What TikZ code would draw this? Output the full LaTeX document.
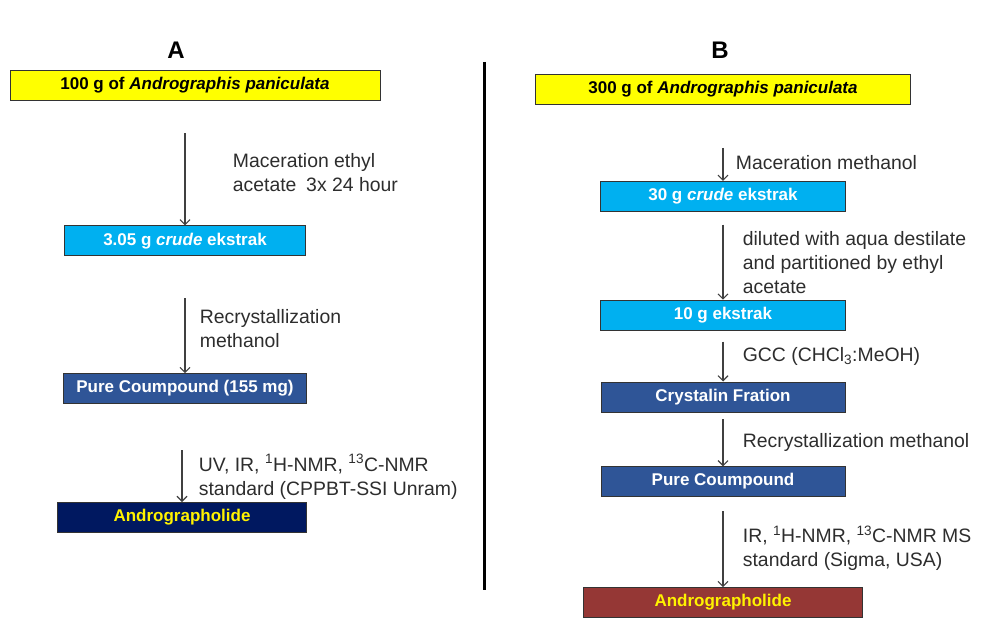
\documentclass[tikz,border=0pt]{standalone}
\usepackage{fontspec}
\setmainfont{Liberation Sans}
\usetikzlibrary{arrows.meta,positioning}
\definecolor{plantyellow}{RGB}{255,255,0}
\definecolor{extractcyan}{RGB}{0,176,240}
\definecolor{fractionblue}{RGB}{47,85,151}
\definecolor{productnavy}{RGB}{0,24,96}
\definecolor{productred}{RGB}{149,55,53}
\definecolor{labelgray}{RGB}{45,45,45}
\tikzset{
  stage/.style={rectangle, draw=black!80, line width=0.8pt, inner sep=0pt,
                minimum height=30pt, text height=12.5pt, text depth=4pt,
                align=center, font=\fontsize{17}{20}\selectfont\bfseries},
  plant/.style={stage, fill=plantyellow, text=black},
  crude/.style={stage, fill=extractcyan, text=white},
  fraction/.style={stage, fill=fractionblue, text=white},
  product/.style={stage, text=yellow},
}

\begin{document}
\begin{tikzpicture}[x=1pt, y=-1pt]
  % Styles
  \tikzset{
    arrow/.style={-{Straight Barb[length=5pt,width=10pt]}, line width=1.1pt, black!75},
    note/.style={anchor=west, align=left, xshift=16pt, text=labelgray,
      font=\fontsize{19.4}{24}\selectfont},
    title/.style={font=\fontsize{24}{26}\selectfont\bfseries},
    divider/.style={line width=3pt, black}
  }
  \useasboundingbox (0,0) rectangle (985,634);

  % ----- Panel A -----
  \node[title] (titleA) at (176,50) {A};
  \node[plant, minimum width=370pt] (plantA) at (195,85) {100 g of \textit{Andrographis paniculata}};
  \node[crude, minimum width=241pt, below=125pt of plantA, xshift=-10pt] (crudeA) {3.05 g \textit{crude} ekstrak};
  \node[fraction, minimum width=243pt, below=117pt of crudeA] (pureA) {Pure Coumpound (155 mg)};
  \node[product, fill=productnavy, minimum width=249pt, below=98pt of pureA, xshift=-3pt] (androA) {Andrographolide};

  % ----- Panel B -----
  \node[title] (titleB) at (720,50) {B};
  \node[plant, minimum width=375pt] (plantB) at (723,89.5) {300 g of \textit{Andrographis paniculata}};
  \node[crude, minimum width=245pt, below=76pt of plantB] (crudeB) {30 g \textit{crude} ekstrak};
  \node[crude, minimum width=245pt, below=88pt of crudeB] (ekstrakB) {10 g ekstrak};
  \node[fraction, minimum width=244pt, below=51pt of ekstrakB] (crystalB) {Crystalin Fration};
  \node[fraction, minimum width=244pt, below=54pt of crystalB] (pureB) {Pure Coumpound};
  \node[product, fill=productred, minimum width=279pt, below=90pt of pureB] (androB) {Andrographolide};

  % ----- Separator -----
  \draw[divider] (484,62) -- (484,590);

  % ----- Arrows A -----
  \draw[arrow, shorten <=33pt] (crudeA.north |- plantA.south) -- node[note, pos=0.58, xshift=28pt] {Maceration ethyl\\acetate\enspace3x 24 hour} (crudeA.north);
  \draw[arrow, shorten <=42pt] (crudeA.south) -- node[note, pos=0.62, xshift=-5pt] {Recrystallization\\methanol} (pureA.north);
  \draw[arrow, shorten <=46pt] (androA.north |- pureA.south) -- node[note, pos=0.745, xshift=-3pt] {UV, IR, \textsuperscript{1}H-NMR, \textsuperscript{13}C-NMR\\standard (CPPBT-SSI Unram)} (androA.north);

  % ----- Arrows B -----
  \draw[arrow, shorten <=43pt] (crudeB.north |- plantB.south) -- node[note, pos=0.76, xshift=-7pt] {Maceration methanol} (crudeB.north);
  \draw[arrow, shorten <=13pt] (crudeB.south) -- node[note, pos=0.58] {diluted with aqua destilate\\and partitioned by ethyl\\acetate} (ekstrakB.north);
  \draw[arrow, shorten <=11pt] (ekstrakB.south) -- node[note, pos=0.51] {GCC (CHCl\textsubscript{3}:MeOH)} (crystalB.north);
  \draw[arrow, shorten <=7pt] (crystalB.south) -- node[note, pos=0.56] {Recrystallization methanol} (pureB.north);
  \draw[arrow, shorten <=14pt] (pureB.south) -- node[note, pos=0.57] {IR, \textsuperscript{1}H-NMR, \textsuperscript{13}C-NMR MS\\standard (Sigma, USA)} (androB.north);

\end{tikzpicture}
\end{document}
